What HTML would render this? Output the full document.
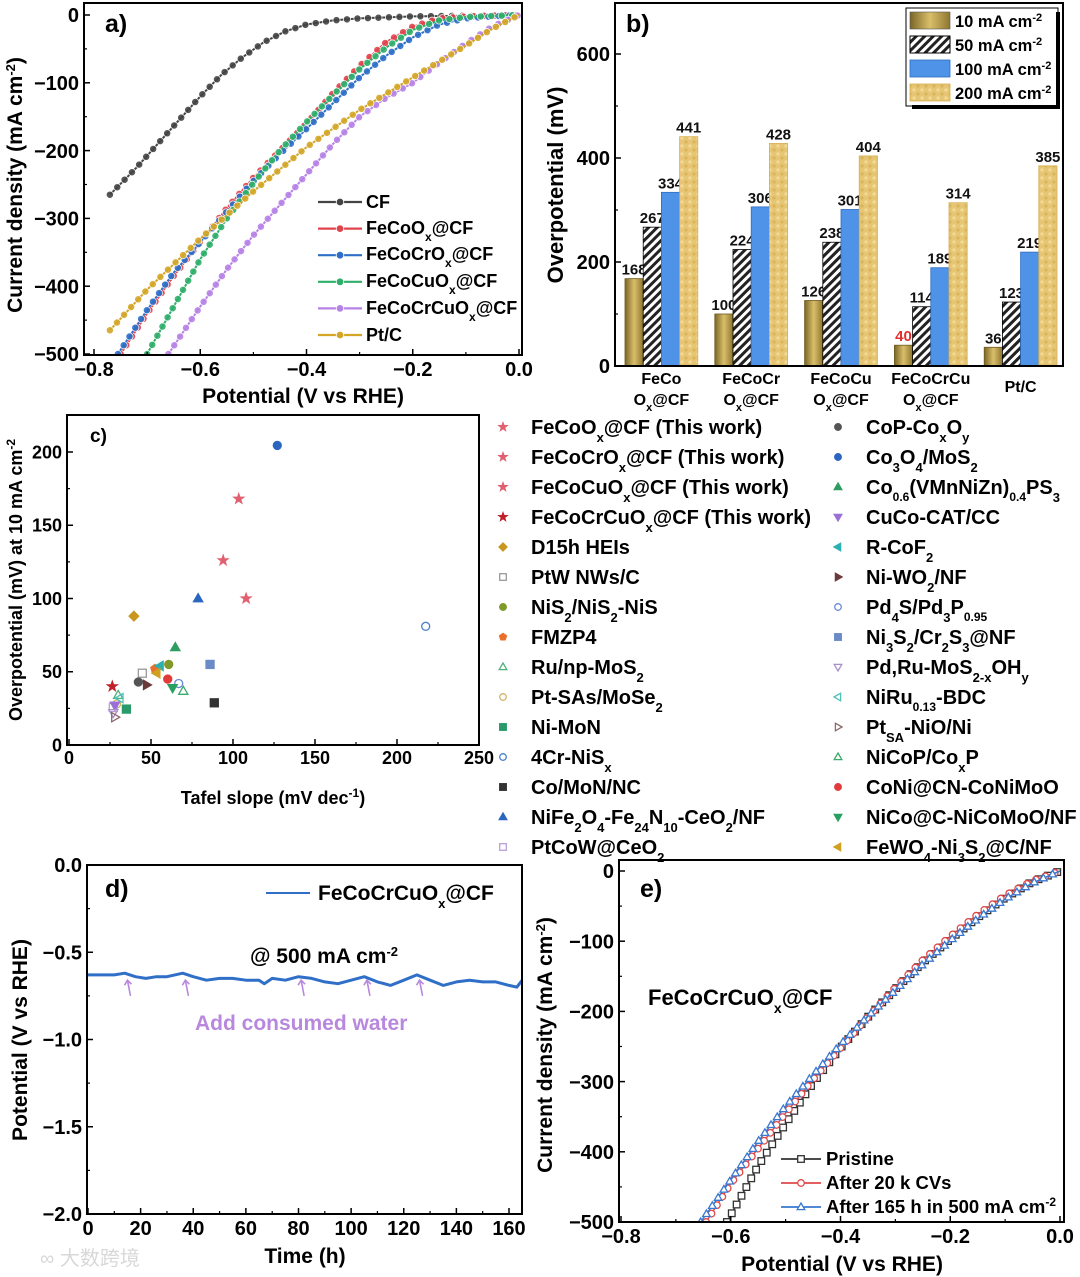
<!DOCTYPE html>
<html><head><meta charset="utf-8">
<style>
html,body{margin:0;padding:0;background:#fff;}
svg{display:block;font-family:"Liberation Sans","Noto Sans CJK SC",sans-serif;font-weight:bold;}
</style></head>
<body>
<svg id="fig" width="1080" height="1277" viewBox="0 0 1080 1277" xmlns="http://www.w3.org/2000/svg">
<defs>
  <linearGradient id="g10" x1="0" x2="1" y1="0" y2="0">
    <stop offset="0" stop-color="#7a6526"/><stop offset="0.5" stop-color="#d9bf6a"/><stop offset="1" stop-color="#8f7630"/>
  </linearGradient>
  <pattern id="hatch" width="6" height="6" patternUnits="userSpaceOnUse" patternTransform="rotate(45)">
    <rect width="6" height="6" fill="#fff"/><rect width="3" height="6" fill="#222"/>
  </pattern>
  <pattern id="dots" width="8" height="8" patternUnits="userSpaceOnUse">
    <rect width="8" height="8" fill="#e6c574"/><circle cx="2" cy="2" r="1.6" fill="#f3dc98"/><circle cx="6" cy="6" r="1.6" fill="#d9b45c"/>
  </pattern>
</defs>

<g font-size="21">
  <text x="105" y="32" font-size="25">a)</text>
  <text transform="translate(22,185) rotate(-90)" text-anchor="middle">Current density (mA cm<tspan baseline-shift="super" font-size="13">-2</tspan>)</text>
  <text x="303" y="403" text-anchor="middle">Potential (V vs RHE)</text>
</g>
<g font-size="21">
  <text x="626" y="32" font-size="25">b)</text>
  <text transform="translate(563,185) rotate(-90)" text-anchor="middle" font-size="22">Overpotential (mV)</text>
</g>
<g font-size="18">
  <text x="90" y="442" font-size="19">c)</text>
  <text transform="translate(22,580) rotate(-90)" text-anchor="middle">Overpotential (mV) at 10 mA cm<tspan baseline-shift="super" font-size="12">-2</tspan></text>
  <text x="273" y="804" text-anchor="middle">Tafel slope (mV dec<tspan baseline-shift="super" font-size="12">-1</tspan>)</text>
</g>
<g font-size="21">
  <text x="105" y="897" font-size="25">d)</text>
  <text transform="translate(27,1040) rotate(-90)" text-anchor="middle">Potential (V vs RHE)</text>
  <text x="305" y="1263" text-anchor="middle">Time (h)</text>
  <text x="250" y="963">@ 500 mA cm<tspan baseline-shift="super" font-size="13">-2</tspan></text>
  <text x="195" y="1030" fill="#b888de">Add consumed water</text>
  <line x1="266" y1="893" x2="310" y2="893" stroke="#2f6fc8" stroke-width="2"/>
  <text x="318" y="900">FeCoCrCuO<tspan baseline-shift="sub" font-size="13">x</tspan>@CF</text>
</g>
<g font-size="21">
  <text x="640" y="897" font-size="25">e)</text>
  <text transform="translate(552,1045) rotate(-90)" text-anchor="middle">Current density (mA cm<tspan baseline-shift="super" font-size="13">-2</tspan>)</text>
  <text x="842" y="1271" text-anchor="middle">Potential (V vs RHE)</text>
  <text x="648" y="1005" font-size="22">FeCoCrCuO<tspan baseline-shift="sub" font-size="14">x</tspan>@CF</text>
</g>
<text x="40" y="1265" font-size="20" fill="#d8d8d8" font-weight="normal">∞ 大数跨境</text>

<g font-size="20">
  <text x="531" y="434">FeCoO<tspan baseline-shift="sub" font-size="13">x</tspan>@CF (This work)</text>
  <text x="531" y="464">FeCoCrO<tspan baseline-shift="sub" font-size="13">x</tspan>@CF (This work)</text>
  <text x="531" y="494">FeCoCuO<tspan baseline-shift="sub" font-size="13">x</tspan>@CF (This work)</text>
  <text x="531" y="524">FeCoCrCuO<tspan baseline-shift="sub" font-size="13">x</tspan>@CF (This work)</text>
  <text x="531" y="554">D15h HEIs</text>
  <text x="531" y="584">PtW NWs/C</text>
  <text x="531" y="614">NiS<tspan baseline-shift="sub" font-size="13">2</tspan>/NiS<tspan baseline-shift="sub" font-size="13">2</tspan>-NiS</text>
  <text x="531" y="644">FMZP4</text>
  <text x="531" y="674">Ru/np-MoS<tspan baseline-shift="sub" font-size="13">2</tspan></text>
  <text x="531" y="704">Pt-SAs/MoSe<tspan baseline-shift="sub" font-size="13">2</tspan></text>
  <text x="531" y="734">Ni-MoN</text>
  <text x="531" y="764">4Cr-NiS<tspan baseline-shift="sub" font-size="13">x</tspan></text>
  <text x="531" y="794">Co/MoN/NC</text>
  <text x="531" y="824">NiFe<tspan baseline-shift="sub" font-size="13">2</tspan>O<tspan baseline-shift="sub" font-size="13">4</tspan>-Fe<tspan baseline-shift="sub" font-size="13">24</tspan>N<tspan baseline-shift="sub" font-size="13">10</tspan>-CeO<tspan baseline-shift="sub" font-size="13">2</tspan>/NF</text>
  <text x="531" y="854">PtCoW@CeO<tspan baseline-shift="sub" font-size="13">2</tspan></text>
  <text x="866" y="434">CoP-Co<tspan baseline-shift="sub" font-size="13">x</tspan>O<tspan baseline-shift="sub" font-size="13">y</tspan></text>
  <text x="866" y="464">Co<tspan baseline-shift="sub" font-size="13">3</tspan>O<tspan baseline-shift="sub" font-size="13">4</tspan>/MoS<tspan baseline-shift="sub" font-size="13">2</tspan></text>
  <text x="866" y="494">Co<tspan baseline-shift="sub" font-size="12">0.6</tspan>(VMnNiZn)<tspan baseline-shift="sub" font-size="12">0.4</tspan>PS<tspan baseline-shift="sub" font-size="13">3</tspan></text>
  <text x="866" y="524">CuCo-CAT/CC</text>
  <text x="866" y="554">R-CoF<tspan baseline-shift="sub" font-size="13">2</tspan></text>
  <text x="866" y="584">Ni-WO<tspan baseline-shift="sub" font-size="13">2</tspan>/NF</text>
  <text x="866" y="614">Pd<tspan baseline-shift="sub" font-size="13">4</tspan>S/Pd<tspan baseline-shift="sub" font-size="13">3</tspan>P<tspan baseline-shift="sub" font-size="12">0.95</tspan></text>
  <text x="866" y="644">Ni<tspan baseline-shift="sub" font-size="13">3</tspan>S<tspan baseline-shift="sub" font-size="13">2</tspan>/Cr<tspan baseline-shift="sub" font-size="13">2</tspan>S<tspan baseline-shift="sub" font-size="13">3</tspan>@NF</text>
  <text x="866" y="674">Pd,Ru-MoS<tspan baseline-shift="sub" font-size="13">2-x</tspan>OH<tspan baseline-shift="sub" font-size="13">y</tspan></text>
  <text x="866" y="704">NiRu<tspan baseline-shift="sub" font-size="12">0.13</tspan>-BDC</text>
  <text x="866" y="734">Pt<tspan baseline-shift="sub" font-size="13">SA</tspan>-NiO/Ni</text>
  <text x="866" y="764">NiCoP/Co<tspan baseline-shift="sub" font-size="13">x</tspan>P</text>
  <text x="866" y="794">CoNi@CN-CoNiMoO</text>
  <text x="866" y="824">NiCo@C-NiCoMoO/NF</text>
  <text x="866" y="854">FeWO<tspan baseline-shift="sub" font-size="13">4</tspan>-Ni<tspan baseline-shift="sub" font-size="13">3</tspan>S<tspan baseline-shift="sub" font-size="13">2</tspan>@C/NF</text>
</g>

<g font-size="18">
  <text x="366" y="208">CF</text>
  <text x="366" y="234">FeCoO<tspan baseline-shift="sub" font-size="12">x</tspan>@CF</text>
  <text x="366" y="260">FeCoCrO<tspan baseline-shift="sub" font-size="12">x</tspan>@CF</text>
  <text x="366" y="287">FeCoCuO<tspan baseline-shift="sub" font-size="12">x</tspan>@CF</text>
  <text x="366" y="314">FeCoCrCuO<tspan baseline-shift="sub" font-size="12">x</tspan>@CF</text>
  <text x="366" y="341">Pt/C</text>
</g>
<g font-size="16.5">
  <rect x="906" y="8" width="152" height="98" fill="#fff" stroke="#000" stroke-width="1"/>
  <line x1="1058" y1="12" x2="1058" y2="107" stroke="#000" stroke-width="4"/>
  <line x1="912" y1="107" x2="1060" y2="107" stroke="#000" stroke-width="4"/>
  <rect x="910" y="12" width="40" height="17" fill="url(#g10)" stroke="#555" stroke-width="0.6"/>
  <rect x="910" y="36" width="40" height="17" fill="url(#hatch)" stroke="#000" stroke-width="1"/>
  <rect x="910" y="60" width="40" height="17" fill="#4f93e8" stroke="#2c6dc0" stroke-width="0.8"/>
  <rect x="910" y="84" width="40" height="17" fill="url(#dots)" stroke="#d7b050" stroke-width="0.8"/>
  <text x="955" y="27">10  mA cm<tspan baseline-shift="super" font-size="11">-2</tspan></text>
  <text x="955" y="51">50 mA cm<tspan baseline-shift="super" font-size="11">-2</tspan></text>
  <text x="955" y="75">100 mA cm<tspan baseline-shift="super" font-size="11">-2</tspan></text>
  <text x="955" y="99">200 mA cm<tspan baseline-shift="super" font-size="11">-2</tspan></text>
</g>
<g font-size="18.5">
  <text x="826" y="1165">Pristine</text>
  <text x="826" y="1189">After 20 k CVs</text>
  <text x="826" y="1213">After 165 h in 500 mA cm<tspan baseline-shift="super" font-size="12">-2</tspan></text>
</g>
<g id="dyn"></g>
</svg>

<script>
// ---------- Panel a data ----------
const aNames = ['CF','FeCoOx@CF','FeCoCrOx@CF','FeCoCuOx@CF','FeCoCrCuOx@CF','Pt/C'];
const aColors = ['#444444','#e0444c','#2f6fc8','#2fae6a','#b782e6','#d4a628'];
const aCF_V = [-0.77,-0.72,-0.68,-0.64,-0.6,-0.56,-0.52,-0.48,-0.44,-0.4,-0.35,-0.3,-0.2,-0.1,0];
const aCF_J = [-265,-225,-190,-155,-120,-88,-62,-40,-24,-14,-8,-5,-2,-1,0];
const aFeCo_V = [-0.75,-0.7,-0.65,-0.6,-0.55,-0.5,-0.45,-0.4,-0.35,-0.3,-0.25,-0.2,-0.15,-0.1,0];
const aFeCo_J = [-500,-440,-385,-335,-285,-240,-200,-160,-115,-75,-40,-17,-5,-2,0];
const aCr_V = [-0.755,-0.7,-0.65,-0.6,-0.55,-0.5,-0.45,-0.4,-0.35,-0.3,-0.25,-0.2,-0.15,-0.1,-0.05,0];
const aCr_J = [-500,-435,-380,-335,-290,-245,-205,-168,-130,-92,-60,-33,-14,-5,-2,0];
const aCu_V = [-0.70,-0.65,-0.6,-0.55,-0.5,-0.45,-0.4,-0.35,-0.3,-0.25,-0.2,-0.15,-0.1,0];
const aCu_J = [-500,-430,-360,-300,-248,-200,-158,-118,-80,-48,-22,-8,-3,0];
const aCrCu_V = [-0.66,-0.6,-0.55,-0.5,-0.45,-0.4,-0.35,-0.3,-0.25,-0.2,-0.15,-0.1,-0.05,0];
const aCrCu_J = [-500,-430,-375,-325,-280,-235,-190,-150,-122,-100,-70,-42,-17,0];
const aPt_V = [-0.77,-0.7,-0.6,-0.5,-0.4,-0.3,-0.2,-0.1,-0.05,0];
const aPt_J = [-465,-405,-330,-260,-195,-140,-92,-45,-20,0];
const aXTicks = [-0.8,-0.6,-0.4,-0.2,0.0];
const aYTicks = [0,-100,-200,-300,-400,-500];

// ---------- Panel b data ----------
const bGroups1 = ['FeCo','FeCoCr','FeCoCu','FeCoCrCu','Pt/C'];
const bGroups2 = ['Ox@CF','Ox@CF','Ox@CF','Ox@CF',''];
const b10 = [168,100,126,40,36];
const b50 = [267,224,238,114,123];
const b100 = [334,306,301,189,219];
const b200 = [441,428,404,314,385];
const bYTicks = [0,200,400,600];

// ---------- Panel c data ----------
const cTafel = [103.5,108,94,26.4,39.6,44.7,60.8,52.4,30,29,35,217.5,88.6,78.7,27,
                42.3,127,64.8,28,55.5,47.4,66.9,86,27,31,28,69.7,60.2,63.2,53.5];
const cEta = [168,100,126,40,88,49,55,52,34,28,24.5,81,28.8,100,25.6,
              43,204.5,66.6,27,54,41,42,55,22,32,19,36.8,45,39,49];
const cXTicks = [0,50,100,150,200,250];
const cYTicks = [0,50,100,150,200];

// ---------- Panel d data ----------
const dTime = [0,5,10,14,18,22,26,30,36,40,45,50,55,60,65,67,70,75,80,85,90,95,100,105,110,115,120,125,130,135,140,145,150,155,160,163,165];
const dPot = [-0.63,-0.63,-0.63,-0.62,-0.64,-0.65,-0.64,-0.64,-0.62,-0.64,-0.66,-0.65,-0.65,-0.66,-0.66,-0.68,-0.65,-0.66,-0.64,-0.65,-0.67,-0.68,-0.66,-0.64,-0.67,-0.69,-0.66,-0.63,-0.66,-0.69,-0.67,-0.66,-0.67,-0.67,-0.69,-0.70,-0.66];
const dArrowTimes = [15,37,81,106,126];
const dXTicks = [0,20,40,60,80,100,120,140,160];
const dYTicks = [0.0,-0.5,-1.0,-1.5,-2.0];

// ---------- Panel e data ----------
const ePr_V = [-0.607,-0.55,-0.5,-0.45,-0.4,-0.35,-0.3,-0.25,-0.2,-0.15,-0.1,-0.05,0];
const ePr_J = [-500,-420,-360,-302,-252,-208,-168,-130,-97,-66,-38,-15,0];
const eCV_V = [-0.645,-0.6,-0.55,-0.5,-0.45,-0.4,-0.35,-0.3,-0.25,-0.2,-0.15,-0.1,-0.05,0];
const eCV_J = [-500,-445,-395,-345,-297,-252,-208,-166,-127,-93,-62,-35,-14,0];
const eH_V = [-0.655,-0.6,-0.55,-0.5,-0.45,-0.4,-0.35,-0.3,-0.25,-0.2,-0.15,-0.1,-0.05,0];
const eH_J = [-500,-440,-385,-335,-290,-247,-207,-170,-133,-99,-68,-40,-17,0];
const eXTicks = [-0.8,-0.6,-0.4,-0.2,0.0];
const eYTicks = [0,-100,-200,-300,-400,-500];

const NS = 'http://www.w3.org/2000/svg';
const root = document.getElementById('dyn');
function mk(tag, attrs, parent) {
  const e = document.createElementNS(NS, tag);
  for (const k in attrs) e.setAttribute(k, attrs[k]);
  (parent || root).appendChild(e);
  return e;
}
function lin(d0, d1, r0, r1) { return v => r0 + (v - d0) * (r1 - r0) / (d1 - d0); }
function fmt(v, dec) { const s = v.toFixed(dec); return v < 0 ? '\u2212' + s.slice(1) : s; }

function frame(name, x0, y0, x1, y1) {
  const r = mk('rect', {x:x0, y:y0, width:x1-x0, height:y1-y0, fill:'none', stroke:'#000', 'stroke-width':2});
  
  
}
function xAxis(name, ticks, sx, yb, dec, fs, minor) {
  const g = mk('g', {'font-size': fs});
  
  
  ticks.forEach((t, i) => {
    const x = sx(t);
    mk('line', {x1:x, y1:yb, x2:x, y2:yb-6, stroke:'#000', 'stroke-width':1.5}, g);
    if (minor && i < ticks.length - 1) { const xm = (x + sx(ticks[i+1])) / 2; mk('line', {x1:xm, y1:yb, x2:xm, y2:yb-3, stroke:'#000', 'stroke-width':1.2}, g); }
    const tx = mk('text', {x:x, y:yb+fs+1, 'text-anchor':'middle'}, g);
    tx.textContent = fmt(t, dec);
  });
}
function yAxis(name, ticks, sy, xl, dec, fs, minor) {
  const g = mk('g', {'font-size': fs});
  
  
  ticks.forEach((t, i) => {
    const y = sy(t);
    mk('line', {x1:xl, y1:y, x2:xl+6, y2:y, stroke:'#000', 'stroke-width':1.5}, g);
    if (minor && i < ticks.length - 1) { const ym = (y + sy(ticks[i+1])) / 2; mk('line', {x1:xl, y1:ym, x2:xl+3, y2:ym, stroke:'#000', 'stroke-width':1.2}, g); }
    const tx = mk('text', {x:xl-5, y:y+fs*0.36, 'text-anchor':'end'}, g);
    tx.textContent = fmt(t, dec);
  });
}
function markersAlong(path, step, drawFn) {
  const L = path.getTotalLength();
  for (let s = 0; s <= L + 0.1; s += step) { const p = path.getPointAtLength(Math.min(s, L)); drawFn(p.x, p.y); }
}

// ================= Panel a =================
(function(){
  const sx = lin(-0.8, 0, 94, 519), sy = lin(0, -500, 15, 354);
  const clip = mk('clipPath', {id:'clipA'}); mk('rect', {x:84, y:3, width:438, height:352}, clip);
  const series = [[aCF_V,aCF_J],[aFeCo_V,aFeCo_J],[aCr_V,aCr_J],[aCu_V,aCu_J],[aCrCu_V,aCrCu_J],[aPt_V,aPt_J]];
  series.forEach((s, k) => {
    const g = mk('g', {'clip-path':'url(#clipA)'});
    
    
    const d = s[0].map((v, i) => (i ? 'L' : 'M') + sx(v).toFixed(1) + ',' + sy(s[1][i]).toFixed(1)).join('');
    const p = mk('path', {d:d, fill:'none', stroke:aColors[k], 'stroke-width':2}, g);
    markersAlong(p, 10.5, (x, y) => mk('circle', {cx:x, cy:y, r:3.6, fill:aColors[k], stroke:'#fff', 'stroke-width':0.7, 'fill-opacity':0.9}, g));
  });
  frame('panel-a-frame', 84, 3, 522, 355);
  xAxis('panel-a-x-axis', aXTicks, sx, 355, 1, 20, true);
  yAxis('panel-a-y-axis', aYTicks, sy, 84, 0, 20, true);
  aNames.forEach((n, k) => {
    const y = 202 + k * 26.6;
    const g = mk('g', {});
    
    
    mk('line', {x1:318, y1:y, x2:362, y2:y, stroke:aColors[k], 'stroke-width':2.2}, g);
    mk('circle', {cx:340, cy:y, r:3.8, fill:aColors[k], stroke:'#fff', 'stroke-width':0.8}, g);
  });
})();

// ================= Panel b =================
(function(){
  const sy = lin(0, 600, 366, 54);
  const bw = 18.2, gx0 = 625, gstep = 89.8;
  const fills = ['url(#g10)','url(#hatch)','#4f93e8','url(#dots)'];
  const strokes = ['#6e5a20','#000','#2c6dc0','#d7b050'];
  const vals = [b10, b50, b100, b200];
  bGroups1.forEach((gname, gi) => {
    vals.forEach((arr, si) => {
      const x = gx0 + gi * gstep + si * bw, y = sy(arr[gi]);
      const r = mk('rect', {x:x, y:y, width:bw, height:sy(0)-y, fill:fills[si], stroke:strokes[si], 'stroke-width':0.8});
      
      
      const t = mk('text', {x:x + bw/2, y:y - 4, 'text-anchor':'middle', 'font-size':15, fill:(gi===3 && si===0) ? '#e03030' : '#111'});
      
      
      t.textContent = arr[gi];
    });
    const cx = gx0 + gi * gstep + 2 * bw;
    const t1 = mk('text', {x:cx, y:bGroups2[gi] ? 384 : 392, 'text-anchor':'middle', 'font-size':16});
    
    
    t1.textContent = gname;
    if (bGroups2[gi]) {
      const t2 = mk('text', {x:cx, y:405, 'text-anchor':'middle', 'font-size':16});
      
      
      t2.innerHTML = 'O<tspan baseline-shift="sub" font-size="11">x</tspan>@CF';
    }
  });
  frame('panel-b-frame', 615, 3, 1063, 366);
  yAxis('panel-b-y-axis', bYTicks, sy, 615, 0, 20, true);
})();

// ================= Panel c =================
const cShapes = ['star','star','star','star','diamond','sqo','circle','pent','trio','circo','square','circo','square','tri',
                 'sqo','circle','circle','tri','tridown','trileft','triright','circo','square','tridowno','trilefto','tririghto','trio','circle','tridown','trileft'];
const cCols = ['#e06070','#e06070','#e06070','#c0202a','#c9961f','#999','#7f9a2a','#e9702a','#4fb07a','#d2b46a','#2a9a6a','#4a80c8','#333','#2a66c0','#b9a0d8',
               '#555','#2a66c0','#2e9e60','#9a70d8','#2ab0b0','#6a3a3a','#6a8ad8','#6a8ac8','#a890c8','#50c0b8','#8a6a6a','#3aaa6a','#e03a3a','#2aa060','#d0a020'];
function shape(g, type, x, y, col, sz) {
  const open = /o$/.test(type);
  const base = type.replace(/o$/,'');
  const fill = open ? 'none' : col;
  const a = {fill:fill, stroke:col, 'stroke-width':1.3};
  const s = sz;
  let pts = null;
  if (base === 'circle' || base === 'circ') return mk('circle', Object.assign({cx:x, cy:y, r:s}, a), g);
  if (base === 'square' || base === 'sq') return mk('rect', Object.assign({x:x-s, y:y-s, width:2*s, height:2*s}, a), g);
  if (base === 'diamond') pts = [[0,-s*1.2],[s*1.2,0],[0,s*1.2],[-s*1.2,0]];
  if (base === 'tri') pts = [[0,-s*1.2],[s*1.15,s*0.8],[-s*1.15,s*0.8]];
  if (base === 'tridown') pts = [[0,s*1.2],[s*1.15,-s*0.8],[-s*1.15,-s*0.8]];
  if (base === 'trileft') pts = [[-s*1.2,0],[s*0.8,-s*1.15],[s*0.8,s*1.15]];
  if (base === 'triright') pts = [[s*1.2,0],[-s*0.8,-s*1.15],[-s*0.8,s*1.15]];
  if (base === 'pent') { pts = []; for (let i=0;i<5;i++){const an=-Math.PI/2+i*2*Math.PI/5; pts.push([Math.cos(an)*s*1.1, Math.sin(an)*s*1.1]);} }
  if (base === 'star') { pts = []; for (let i=0;i<10;i++){const an=-Math.PI/2+i*Math.PI/5; const r=i%2? s*0.5 : s*1.25; pts.push([Math.cos(an)*r, Math.sin(an)*r]);} }
  return mk('polygon', Object.assign({points: pts.map(p => (x+p[0]).toFixed(1)+','+(y+p[1]).toFixed(1)).join(' ')}, a), g);
}
(function(){
  const sx = lin(0, 250, 69, 479), sy = lin(0, 200, 745, 452);
  cTafel.forEach((t, i) => {
    const g = mk('g', {});
    
    
    shape(g, cShapes[i], sx(t), sy(cEta[i]), cCols[i], 4);
    const lg = mk('g', {});
    
    
    const col = i < 15 ? 0 : 1, row = i % 15;
    shape(lg, cShapes[i], col ? 838 : 503, 427 + row * 30, cCols[i], 3.3);
  });
  frame('panel-c-frame', 67, 415, 479, 745);
  xAxis('panel-c-x-axis', cXTicks, sx, 745, 0, 18, true);
  yAxis('panel-c-y-axis', cYTicks, sy, 67, 0, 18, true);
})();

// ================= Panel d =================
(function(){
  const sx = lin(0, 160, 88, 509), sy = lin(0, -2, 865, 1214);
  const d = dTime.map((t, i) => (i ? 'L' : 'M') + sx(t).toFixed(1) + ',' + sy(dPot[i]).toFixed(1)).join('');
  const p = mk('path', {d:d, fill:'none', stroke:'#2f6fc8', 'stroke-width':3, 'stroke-linejoin':'round'});
  
  
  dArrowTimes.forEach(t => {
    const g = mk('g', {stroke:'#b888de', 'stroke-width':1.6, fill:'none'});
    
    
    const x = sx(t), y0 = sy(-0.66), y1 = sy(-0.75);
    mk('line', {x1:x+3, y1:y1, x2:x, y2:y0}, g);
    mk('polyline', {points:(x-3)+','+(y0+5)+' '+x+','+y0+' '+(x+4)+','+(y0+4)}, g);
  });
  frame('panel-d-frame', 87, 865, 522, 1214);
  xAxis('panel-d-x-axis', dXTicks, sx, 1214, 0, 20, true);
  yAxis('panel-d-y-axis', dYTicks, sy, 87, 1, 20, true);
})();

// ================= Panel e =================
(function(){
  const sx = lin(-0.8, 0, 621, 1060), sy = lin(0, -500, 871, 1222);
  const clip = mk('clipPath', {id:'clipE'}); mk('rect', {x:619, y:860, width:446, height:363}, clip);
  const ser = [[ePr_V,ePr_J,'#333','square'],[eCV_V,eCV_J,'#e04848','circle'],[eH_V,eH_J,'#3a78d0','tri']];
  const nm = ['pristine','after-20k-cvs','after-165h'];
  ser.forEach((s, k) => {
    const g = mk('g', {'clip-path':'url(#clipE)'});
    
    
    const d = s[0].map((v, i) => (i ? 'L' : 'M') + sx(v).toFixed(1) + ',' + sy(s[1][i]).toFixed(1)).join('');
    const p = mk('path', {d:d, fill:'none', stroke:s[2], 'stroke-width':1.5}, g);
    markersAlong(p, 10, (x, y) => { const m = shape(g, s[3] + 'o', x, y, s[2], 3.3); m.setAttribute('fill', '#fff'); });
    const lg = mk('g', {});
    
    
    const ly = 1159 + k * 24;
    mk('line', {x1:781, y1:ly, x2:821, y2:ly, stroke:s[2], 'stroke-width':1.8}, lg);
    const m = shape(lg, s[3] + 'o', 801, ly, s[2], 3.3); m.setAttribute('fill', '#fff');
  });
  frame('panel-e-frame', 619, 860, 1064, 1222);
  xAxis('panel-e-x-axis', eXTicks, sx, 1222, 1, 20, true);
  yAxis('panel-e-y-axis', eYTicks, sy, 619, 0, 20, true);
})();
</script>
</body></html>
